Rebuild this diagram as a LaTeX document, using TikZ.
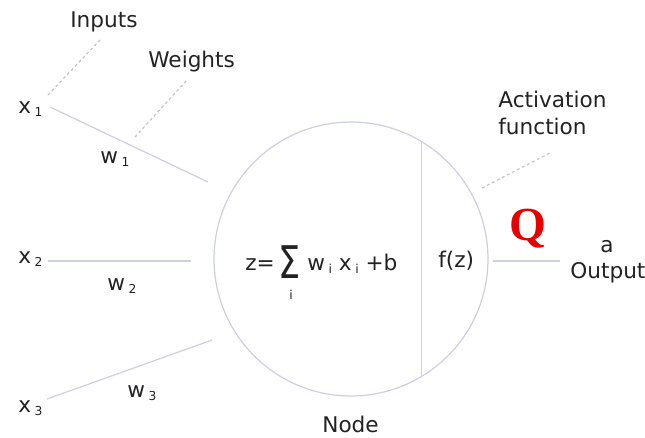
\documentclass[tikz,border=0pt]{standalone}
\usepackage{fontspec}
\setmainfont{DejaVu Sans}
\newfontfamily\markfont{Liberation Serif}
\usetikzlibrary{positioning}
\definecolor{inkcol}{HTML}{222222}
\definecolor{wirecol}{HTML}{CDD1DD}
\definecolor{dotcol}{HTML}{C4C4C4}
\definecolor{markred}{HTML}{E60000}
\newcommand{\sub}[1]{\,\raisebox{-0.3ex}{\fontsize{7}{8}\selectfont #1}}

\begin{document}
\begin{tikzpicture}[x=0.02cm,y=-0.02cm,
  lbl/.style={anchor=base west,inner sep=0pt,text=inkcol,font=\fontsize{12.3}{15}\selectfont},
  wire/.style={draw=wirecol,line width=0.7pt},
  pointer/.style={draw=dotcol,line width=0.7pt,dash pattern=on 1.6pt off 1.6pt}]
  \useasboundingbox (0,0) rectangle (645,437);
  % Inputs and weights
  \node[lbl] (x1) at (18,113) {x\sub{1}};
  \node[lbl] (x2) at (18,263) {x\sub{2}};
  \node[lbl] (x3) at (18,412) {x\sub{3}};
  \node[lbl] (w1) at (100,163) {w\sub{1}};
  \node[lbl] (w2) at (107,290) {w\sub{2}};
  \node[lbl] (w3) at (127,397) {w\sub{3}};
  \node[lbl] (inputs) at (70,27) {Inputs};
  \node[lbl] (weights) at (148,67) {Weights};
  % Wire ends
  \coordinate (a1) at (50,107);  \coordinate (b1) at (208,182);
  \coordinate (a2) at (48,261);  \coordinate (b2) at (191,261);
  \coordinate (a3) at (47,399);  \coordinate (b3) at (212,340);
  \foreach \i in {1,2,3} {
    \draw[wire] (a\i) -- (b\i);
  }
  % Pointers
  \coordinate (p1) at (48,95);   \coordinate (q1) at (100,40);
  \coordinate (p2) at (135,137); \coordinate (q2) at (187,80);
  \draw[pointer] (p1) -- (q1);
  \draw[pointer] (p2) -- (q2);
  % Node
  \node[circle,draw=wirecol,line width=0.7pt,minimum size=5.48cm,inner sep=0pt] (cell) at (351,259) {};
  \draw[wire] (cell.59.8) -- (cell.-59.8);
  \node[lbl] (zeq) at (245,270) {z=};
  \node[inner sep=0pt,text=inkcol] (sigma) at (290,262) {\scalebox{0.78}[1]{\fontsize{25.6}{26}\selectfont Σ}};
  \node[inner sep=0pt,text=inkcol,font=\fontsize{7}{8}\selectfont] (sidx) at (291,295) {i};
  \node[lbl] (summand) at (307,270) {w\sub{i} x\sub{i} +b};
  \node[lbl] (fz) at (438,267) {f(z)};
  \node[lbl] (nodelbl) at (322,432) {Node};
  % Activation and output
  \node[lbl,align=left] (act) at (498,134) {Activation\\function};
  \coordinate (p3) at (482,188); \coordinate (q3) at (550,153);
  \draw[pointer] (p3) -- (q3);
  \coordinate (o1) at (493,261); \coordinate (o2) at (560,261);
  \draw[wire] (o1) -- (o2);
  \node[lbl] (aout) at (600,252) {a};
  \node[lbl] (output) at (570,278) {Output};
  \node[anchor=base west,inner sep=0pt,text=markred,font=\fontsize{27}{27}\markfont\bfseries] (mark) at (509,240) {Q};
\end{tikzpicture}
\end{document}
